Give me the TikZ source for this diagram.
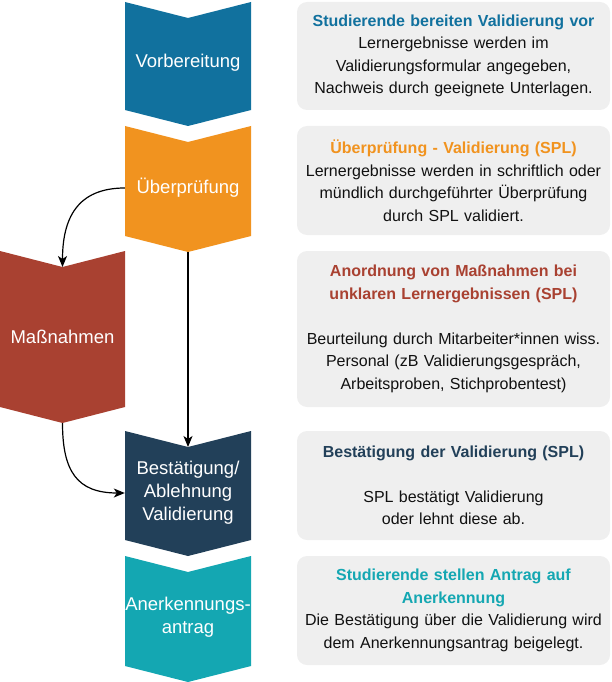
\documentclass[tikz,border=0pt]{standalone}
\usepackage{fontspec}
\setmainfont{Liberation Sans}
\usetikzlibrary{arrows.meta}
\definecolor{cblue}{HTML}{11719E}
\definecolor{corange}{HTML}{F1931F}
\definecolor{cred}{HTML}{A94131}
\definecolor{cnavy}{HTML}{224059}
\definecolor{cteal}{HTML}{14A7B2}
\definecolor{boxgray}{HTML}{EFEFEF}
\definecolor{bodytext}{HTML}{111111}
\newcommand{\chevshape}[5]{%
  \fill[#5] (#1,#3) -- ({(#1+#2)/2},#3+16) -- (#2,#3) -- (#2,#4) -- ({(#1+#2)/2},#4+16) -- (#1,#4) -- cycle;}
\tikzset{
  chevlabel/.style={text=white, font=\fontsize{18.5}{23}\selectfont, align=center, minimum width=126pt, inner sep=0pt},
  infobox/.style={rounded corners=10pt, fill=boxgray, text width=313pt, inner sep=0pt, align=center,
     font=\fontsize{16}{22.5}\selectfont, text=bodytext},
  conn/.style={draw=black, line width=1.2pt, -{Stealth[length=11pt,width=9pt,inset=3pt]}}
}
\begin{document}
\begin{tikzpicture}[x=1pt,y=-1pt]
\useasboundingbox (0,0) rectangle (611,682);
% chevrons
\chevshape{125}{251}{2}{110}{cblue}
\chevshape{125}{251}{126}{236}{corange}
\chevshape{0}{125}{251}{407}{cred}
\chevshape{125}{251}{431}{540}{cnavy}
\chevshape{125}{251}{556}{666}{cteal}
% anchor coordinates
\coordinate (uber-tip) at (188,252);
\coordinate (mass-top) at (62.5,267);
\coordinate (mass-tip) at (62.5,423);
\coordinate (best-top) at (188,447);
% labels
\node[chevlabel] (vorb) at (188,63) {Vorbereitung};
\node[chevlabel] (uber) at (188,188) {Überprüfung};
\node[chevlabel, minimum width=125pt] (mass) at (62.5,337) {Maßnahmen};
\node[chevlabel] (best) at (188,493) {Bestätigung/\\Ablehnung\\Validierung};
\node[chevlabel] (aner) at (188,617.5) {Anerkennungs-\\antrag};
% connectors
\draw[conn] (uber.west) .. controls +(-48,0) and +(0,-48) .. (mass-top);
\draw[conn] (uber-tip) -- (best-top);
\draw[conn] (mass-tip) .. controls +(0,48) and +(-48,0) .. (best.west);
% info boxes
\node[infobox, minimum height=108pt] (b1) at (453.5,56)
  {\textcolor{cblue}{\textbf{Studierende bereiten Validierung vor}}\\Lernergebnisse werden im\\Validierungsformular angegeben,\\Nachweis durch geeignete Unterlagen.};
\node[infobox, minimum height=109pt] (b2) at (453.5,180.5)
  {\textcolor{corange}{\textbf{Überprüfung - Validierung (SPL)}}\\Lernergebnisse werden in schriftlich oder\\mündlich durchgeführter Überprüfung\\durch SPL validiert.};
\node[infobox, minimum height=156pt] (b3) at (453.5,329)
  {\textcolor{cred}{\textbf{Anordnung von Maßnahmen bei}}\\\textcolor{cred}{\textbf{unklaren Lernergebnissen (SPL)}}\\[22.5pt]Beurteilung durch Mitarbeiter*innen wiss.\\Personal (zB Validierungsgespräch,\\Arbeitsproben, Stichprobentest)};
\node[infobox, minimum height=109pt] (b4) at (453.5,485.5)
  {\textcolor{cnavy}{\textbf{Bestätigung der Validierung (SPL)}}\\[22.5pt]SPL bestätigt Validierung\\oder lehnt diese ab.};
\node[infobox, minimum height=109pt] (b5) at (453.5,610.5)
  {\textcolor{cteal}{\textbf{Studierende stellen Antrag auf}}\\\textcolor{cteal}{\textbf{Anerkennung}}\\Die Bestätigung über die Validierung wird\\dem Anerkennungsantrag beigelegt.};
\end{tikzpicture}
\end{document}
